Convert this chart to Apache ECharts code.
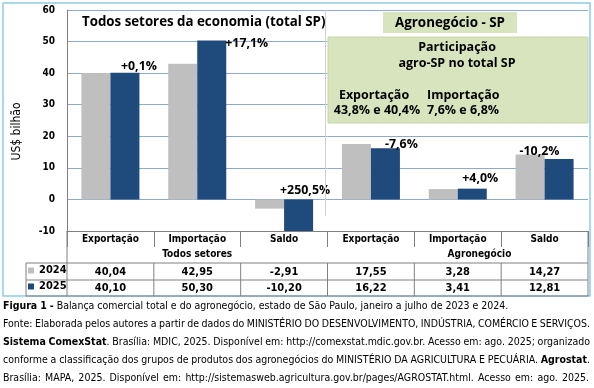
<!DOCTYPE html>
<html><head><meta charset="utf-8">
<script src="https://cdn.jsdelivr.net/npm/echarts@6/dist/echarts.min.js"></script>
<style>html,body{margin:0;padding:0;background:#fff}#c{width:594px;height:388px}</style>
</head><body><div id="c"></div>
<script>
// ---------- data ----------
const categories = ['Exportação','Importação','Saldo','Exportação','Importação','Saldo'];
const groupLabels = ['Todos setores','Agronegócio'];
const seriesNames = ['2024','2025'];
const values2024 = [40.04, 42.95, -2.91, 17.55, 3.28, 14.27];
const values2025 = [40.10, 50.30, -10.20, 16.22, 3.41, 12.81];
const changeLabels = ['+0,1%','+17,1%','+250,5%','-7,6%','+4,0%','-10,2%'];
const yMin = -10, yMax = 60, yInterval = 10;
const titleText = 'Todos setores da economia (total SP)';
const agroTitle = 'Agronegócio - SP';
const shareTitle = ['Participação','agro-SP no total SP'];
const shareExport = ['Exportação','43,8% e 40,4%'];
const shareImport = ['Importação','7,6% e 6,8%'];
const captionLines = [
  '**Figura 1 -** Balança comercial total e do agronegócio, estado de São Paulo, janeiro a julho de 2023 e 2024.',
  'Fonte: Elaborada pelos autores a partir de dados do MINISTÉRIO DO DESENVOLVIMENTO, INDÚSTRIA, COMÉRCIO E SERVIÇOS.',
  '**Sistema ComexStat**. Brasília: MDIC, 2025. Disponível em: http://comexstat.mdic.gov.br. Acesso em: ago. 2025; organizado',
  'conforme a classificação dos grupos de produtos dos agronegócios do MINISTÉRIO DA AGRICULTURA E PECUÁRIA. **Agrostat**.',
  'Brasília: MAPA, 2025. Disponível em: http://sistemasweb.agricultura.gov.br/pages/AGROSTAT.html. Acesso em: ago. 2025.'
];

// ---------- helpers ----------
const FT = '"DejaVu Sans Condensed", "DejaVu Sans", sans-serif';
const FC = '"Open Sans", "Noto Sans", sans-serif';
const mctx = document.createElement('canvas').getContext('2d');
function tw(text, size, weight, family){ mctx.font = (weight||'normal') + ' ' + size + 'px ' + family; return mctx.measureText(text).width; }
function fit(text, weight, family, target){ return Math.round(target / tw(text,100,weight,family) * 1000)/10; }
function fmt(v){ return v.toFixed(2).replace('.', ','); }

const chart = echarts.init(document.getElementById('c'), null, {renderer:'canvas'});
const labelSize = fit('+250,5%','bold',FC,50);
const labelOffsets = [[14,5],[35,14],[6.5,2],[16,7],[8,1],[-19.6,3.5]];

chart.setOption({
  animation:false,
  grid:{left:67, top:10, width:521, height:221},
  legend:{data:seriesNames, orient:'vertical', left:28, top:265, itemWidth:6, itemHeight:6, itemGap:5, icon:'rect', padding:0, selectedMode:false,
    textStyle:{fontFamily:FT, fontWeight:'bold', fontSize:11, color:'#000'}},
  xAxis:{type:'category', data:categories, position:'bottom',
    axisLine:{onZero:false, lineStyle:{color:'#808080'}},
    axisTick:{show:true, length:16, lineStyle:{color:'#808080'}},
    axisLabel:{margin:3, interval:0, fontFamily:FT, fontWeight:'bold', fontSize:10, color:'#000'}},
  yAxis:{type:'value', min:yMin, max:yMax, interval:yInterval,
    name:'US$ bilhão', nameLocation:'middle', nameRotate:90, nameGap:44,
    nameTextStyle:{fontFamily:FT, fontSize:12, color:'#000', padding:[0,22,0,0]},
    axisLine:{show:true, lineStyle:{color:'#808080'}}, axisTick:{show:false},
    axisLabel:{margin:12, fontFamily:FT, fontWeight:'bold', fontSize:10, color:'#000'},
    splitLine:{lineStyle:{color:'#8ea9d0'}}},
  series:[
    {name:seriesNames[0], type:'bar', data:values2024, barWidth:29, barGap:'0%', itemStyle:{color:'#bfbfbf'}},
    {name:seriesNames[1], type:'bar', barWidth:29, barGap:'0%', itemStyle:{color:'#1f4a7c'},
      data:values2025.map((v,i)=>({value:v, label:{offset:labelOffsets[i]}})),
      label:{show:true, position:'top', formatter:p=>changeLabels[p.dataIndex], fontFamily:FC, fontWeight:'bold', fontSize:labelSize, color:'#000'}}
  ]
});

// ---------- table, boxes, captions ----------
const c0 = chart.convertToPixel({xAxisIndex:0}, 0);
const c1 = chart.convertToPixel({xAxisIndex:0}, 1);
const colW = c1 - c0;
const centers = categories.map((_,i)=>chart.convertToPixel({xAxisIndex:0}, i));
const bounds = []; for (let i=0;i<=categories.length;i++) bounds.push(c0 - colW/2 + i*colW);
const yBot = chart.convertToPixel({yAxisIndex:0}, yMin);
const yTop = chart.convertToPixel({yAxisIndex:0}, yMax);
const r0 = yBot+32, r1 = yBot+49, r2 = yBot+65;
const lineC = '#808080';
const g = [];
function line(x1,y1,x2,y2,color,w){ g.push({type:'line', z:5, shape:{x1,y1,x2,y2}, style:{stroke:color||lineC, lineWidth:w||1}}); }
function text(t,x,y,size,weight,family,align,z){ g.push({type:'text', z:z||20, x, y, style:{text:t, fontSize:size, fontWeight:weight, fontFamily:family, fill:'#000', align:align||'center', verticalAlign:'middle'}}); }

// outer frame
g.push({type:'rect', z:1, shape:{x:3,y:3,width:587,height:293}, style:{fill:null, stroke:'#8ccbe6', lineWidth:1.5}});
// separator between groups
line(bounds[3]-2, yTop, bounds[3]-2, yBot-15, '#d0d0d0');
// table lines
line(bounds[0], yBot, bounds[0], r2); line(bounds[6], yBot, bounds[6], r2);
[r0,r1,r2].forEach(y=>line(26,y,bounds[6],y));
line(26,r0,26,r2);
for (let i=1;i<6;i++) line(bounds[i], r0, bounds[i], r2);
// group labels
text(groupLabels[0], centers[1], yBot+23.5, 10, 'bold', FT);
text(groupLabels[1], centers[4]+colW/4, yBot+23.5, 10, 'bold', FT);
// values
values2024.forEach((v,i)=>text(fmt(v), centers[i], (r0+r1)/2+0.5, 11, 'bold', FT));
values2025.forEach((v,i)=>text(fmt(v), centers[i], (r1+r2)/2+0.5, 11, 'bold', FT));
// title
text(titleText, 82, 22, fit(titleText,'bold',FC,244), 'bold', FC, 'left');
// agro boxes
g.push({type:'rect', z:10, shape:{x:383,y:12,width:134,height:21}, style:{fill:'#d7e4bd'}});
text(agroTitle, 450, 23.5, fit(agroTitle,'bold',FC,110), 'bold', FC);
g.push({type:'rect', z:10, shape:{x:328,y:37,width:260,height:86}, style:{fill:'#d7e4bd', stroke:'#c6d6a6', lineWidth:1}});
const bs = fit(shareTitle[0],'bold',FC,78);
text(shareTitle[0], 457, 47, bs, 'bold', FC);
text(shareTitle[1], 457, 63, bs, 'bold', FC);
text(shareExport[0], 374, 95, bs, 'bold', FC);
text(shareExport[1], 377, 110, bs, 'bold', FC);
text(shareImport[0], 427, 95, bs, 'bold', FC, 'left');
text(shareImport[1], 427, 110, bs, 'bold', FC, 'left');

// captions (justified word by word)
function parseLine(s){
  const chars=[]; let b=false;
  for (let i=0;i<s.length;i++){ if (s.substr(i,2)==='**'){ b=!b; i++; continue; } chars.push({c:s[i], b}); }
  const words=[]; let cur=[];
  for (const ch of chars){ if (ch.c===' '){ if(cur.length){ words.push(cur); cur=[]; } } else cur.push(ch); }
  if (cur.length) words.push(cur);
  return words.map(w=>{ const runs=[]; for (const ch of w){ const l=runs[runs.length-1]; if (l && l.b===ch.b) l.t+=ch.c; else runs.push({t:ch.c, b:ch.b}); } return runs; });
}
function wordW(runs,size){ return runs.reduce((s,r)=>s+tw(r.t,size,r.b?'bold':'normal',FT),0); }
const parsed = captionLines.map(parseLine);
const nat1 = (size)=>parsed[0].reduce((s,w)=>s+wordW(w,size),0) + (parsed[0].length-1)*tw(' ',size,'normal',FT);
const capSize = Math.round(505/nat1(100)*100*10)/10;
const capY = [306, 324, 342, 360, 378];
const capRight = [0, 587, 587, 587, 586];
parsed.forEach((words,li)=>{
  const widths = words.map(w=>wordW(w,capSize));
  const sum = widths.reduce((a,b)=>a+b,0);
  let gap = tw(' ',capSize,'normal',FT);
  if (li>0) gap = (capRight[li] - sum)/(words.length-1);
  let x = 3;
  words.forEach((w,wi)=>{
    const rich = w.map(r=>'{'+(r.b?'b':'n')+'|'+r.t+'}').join('');
    g.push({type:'text', z:20, x, y:capY[li], style:{text:rich, verticalAlign:'middle', align:'left',
      rich:{n:{fontFamily:FT, fontSize:capSize, fill:'#000'}, b:{fontFamily:FT, fontSize:capSize, fontWeight:'bold', fill:'#000'}}}});
    x += widths[wi] + gap;
  });
});
chart.setOption({graphic:{elements:g}});
</script></body></html>
